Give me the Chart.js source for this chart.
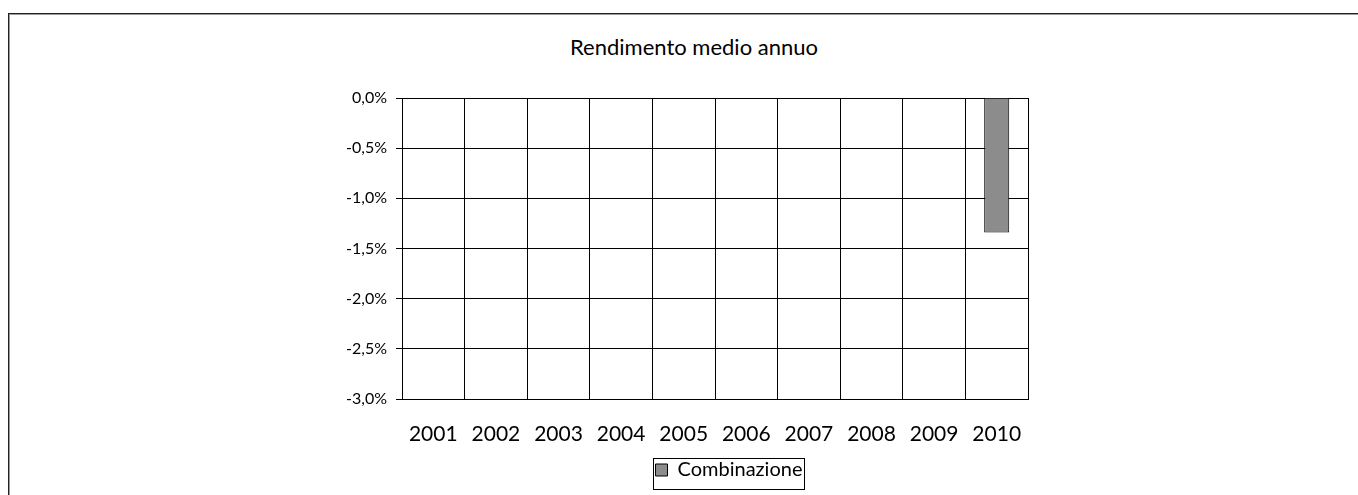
<!DOCTYPE html>
<html>
<head>
<meta charset="utf-8">
<script src="https://cdn.jsdelivr.net/npm/chart.js@4.4.1/dist/chart.umd.min.js"></script>
<style>
  html, body { margin: 0; padding: 0; background: #fff; overflow: hidden; }
  #wrap { position: relative; width: 1358px; height: 495px; }
  #frame { position: absolute; left: 8px; top: 13px; width: 1400px; height: 600px;
           border-left: 1px solid #222; border-top: 1px solid #222;
           box-shadow: inset 1px 1px 0 #999; }
  #title { position: absolute; left: 494px; width: 400px; top: 33px; text-align: center;
           font-family: Lato, "Open Sans", sans-serif; font-size: 22px; color: #000; }
  canvas { position: absolute; left: 0; top: 0; }
</style>
</head>
<body>
<div id="wrap">
  <div id="frame"></div>
  <div id="title">Rendimento medio annuo</div>
  <canvas id="c" width="1358" height="495"></canvas>
</div>
<script>
const categories = ['2001','2002','2003','2004','2005','2006','2007','2008','2009','2010'];
const seriesName = 'Combinazione';
const seriesValues = [null, null, null, null, null, null, null, null, null, -1.34];
const yMin = -3.0, yMax = 0.0, yStep = 0.5;

const legendShiftAndBox = {
  id: 'legendShiftAndBox',
  afterLayout(chart) {
    const lg = chart.legend;
    const target = 729;
    const shift = target - (lg.left + lg.right) / 2;
    lg.left += shift; lg.right += shift;
  },
  afterDraw(chart) {
    const lg = chart.legend;
    const hb = lg.legendHitBoxes && lg.legendHitBoxes[0];
    if (!hb) return;
    const ctx = chart.ctx;
    ctx.save();
    ctx.strokeStyle = '#000';
    ctx.lineWidth = 1;
    const x0 = Math.round(hb.left - 3) + 0.5;
    const x1 = Math.round(hb.left + hb.width + 2) + 0.5;
    const y0 = Math.round(lg.top) + 0.5;
    const y1 = Math.round(lg.bottom) - 0.5;
    ctx.strokeRect(x0, y0, x1 - x0, y1 - y0);
    ctx.restore();
  }
};

new Chart(document.getElementById('c'), {
  type: 'bar',
  data: {
    labels: categories,
    datasets: [{
      label: seriesName,
      data: seriesValues,
      backgroundColor: '#8c8c8c',
      borderColor: '#000',
      borderWidth: 1,
      categoryPercentage: 1.0,
      barPercentage: 0.4
    }]
  },
  options: {
    responsive: false,
    animation: false,
    devicePixelRatio: 1,
    layout: { padding: { left: 0, right: 330, top: 98, bottom: 5 } },
    plugins: {
      title: { display: false },
      tooltip: { enabled: false },
      legend: {
        position: 'bottom',
        fullSize: false,
        labels: {
          boxWidth: 12, boxHeight: 12, padding: 2,
          color: '#000',
          font: { family: 'Lato, "Open Sans", sans-serif', size: 20 }
        }
      }
    },
    scales: {
      x: {
        grid: { color: '#000', lineWidth: 1, drawTicks: false, offset: true },
        border: { color: '#000' },
        ticks: { color: '#000', padding: 23, maxRotation: 0,
                 font: { family: 'Lato, "Open Sans", sans-serif', size: 21 } },
        afterFit(s) { s.height = 59; }
      },
      y: {
        min: yMin, max: yMax,
        grid: { color: '#000', lineWidth: 1, tickLength: 6 },
        border: { color: '#000' },
        ticks: {
          stepSize: yStep, color: '#000', padding: 9,
          font: { family: 'Lato, "Open Sans", sans-serif', size: 16 },
          callback: v => v.toFixed(1).replace('.', ',') + '%'
        },
        afterFit(s) { s.width = 402; }
      }
    }
  },
  plugins: [legendShiftAndBox]
});
</script>
</body>
</html>
